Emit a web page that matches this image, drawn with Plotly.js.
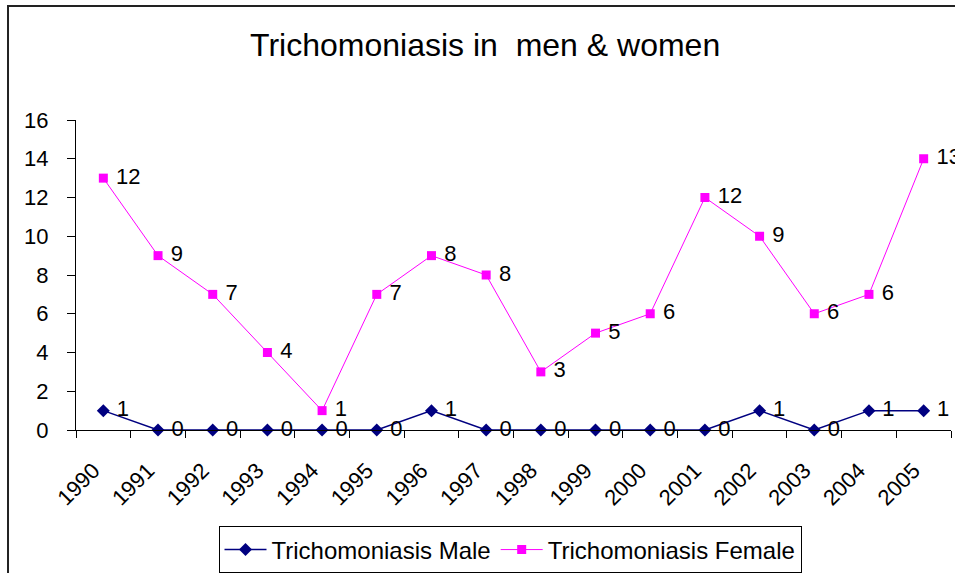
<!DOCTYPE html>
<html>
<head>
<meta charset="utf-8">
<script src="https://cdn.plot.ly/plotly-3.0.1.min.js"></script>
<style>html,body{margin:0;padding:0;background:#fff;}#chart{width:955px;height:573px;}</style>
</head>
<body>
<div id="chart"></div>
<script>
// Data (stacked line chart: female plotted on top of male)
var years = ["1990","1991","1992","1993","1994","1995","1996","1997","1998","1999","2000","2001","2002","2003","2004","2005"];
var maleValues = [1,0,0,0,0,0,1,0,0,0,0,0,1,0,1,1];
var femaleValues = [12,9,7,4,1,7,8,8,3,5,6,12,9,6,6,13];
var seriesNames = ["Trichomoniasis Male", "Trichomoniasis Female"];
var yTickVals = [0,2,4,6,8,10,12,14,16];

var FONT = '"Liberation Sans", Arial, sans-serif';

var traces = [
  {
    x: years, y: maleValues, text: maleValues.map(String),
    texttemplate: '\u00a0%{text}',
    name: seriesNames[0], type: 'scatter', mode: 'lines+markers+text',
    stackgroup: 'one', fill: 'none',
    line: {color: '#000080', width: 1.5},
    marker: {symbol: 'diamond', size: 10, color: '#000080'},
    textposition: 'middle right',
    textfont: {family: FONT, size: 22, color: '#000000'},
    cliponaxis: false, hoverinfo: 'x+text'
  },
  {
    x: years, y: femaleValues, text: femaleValues.map(String),
    texttemplate: '\u00a0%{text}',
    name: seriesNames[1], type: 'scatter', mode: 'lines+markers+text',
    stackgroup: 'one', fill: 'none',
    line: {color: '#FF00FF', width: 1},
    marker: {symbol: 'square', size: 9, color: '#FF00FF'},
    textposition: 'middle right',
    textfont: {family: FONT, size: 22, color: '#000000'},
    cliponaxis: false, hoverinfo: 'x+text'
  }
];

var layout = {
  width: 955, height: 573,
  margin: {l: 76, r: 4, t: 120, b: 143, pad: 0, autoexpand: false},
  paper_bgcolor: '#ffffff', plot_bgcolor: '#ffffff',
  font: {family: FONT, color: '#000000'},
  showlegend: true,
  title: {
    text: 'Trichomoniasis in\u00a0 men &amp; women',
    font: {family: FONT, size: 32, color: '#000000'},
    x: 0.508, xanchor: 'center', y: 0.921, yanchor: 'middle'
  },
  xaxis: {
    type: 'category', range: [-0.5, 15.5], automargin: false,
    tickson: 'boundaries', ticks: 'outside', ticklen: 7, tickcolor: '#000', tickwidth: 1,
    tickangle: -45, ticklabelstandoff: 18, ticklabelshift: -10,
    tickfont: {family: FONT, size: 22, color: '#000'},
    showline: true, linecolor: '#000', linewidth: 1,
    showgrid: false, zeroline: false, fixedrange: true
  },
  yaxis: {
    range: [0, 16], tickvals: yTickVals, ticktext: yTickVals.map(String), automargin: false,
    ticks: 'outside', ticklen: 8, tickcolor: '#000', tickwidth: 1,
    ticklabelstandoff: 14,
    tickfont: {family: FONT, size: 22, color: '#000'},
    showline: true, linecolor: '#000', linewidth: 1,
    showgrid: false, zeroline: false, fixedrange: true
  },
  legend: {
    orientation: 'h', x: 0.496, xanchor: 'center', y: -0.387, yanchor: 'middle',
    bordercolor: '#000', borderwidth: 1, bgcolor: '#fff',
    font: {family: FONT, size: 24, color: '#000'},
    itemwidth: 42,
    traceorder: 'normal'
  },
  shapes: [
    {type: 'path', xref: 'paper', yref: 'paper',
     path: 'M -0.0777 -0.47 L -0.0777 1.3677 L 1.01 1.3677',
     line: {color: '#222', width: 2}}
  ]
};

Plotly.newPlot('chart', traces, layout, {displayModeBar: false, staticPlot: true});
</script>
</body>
</html>
